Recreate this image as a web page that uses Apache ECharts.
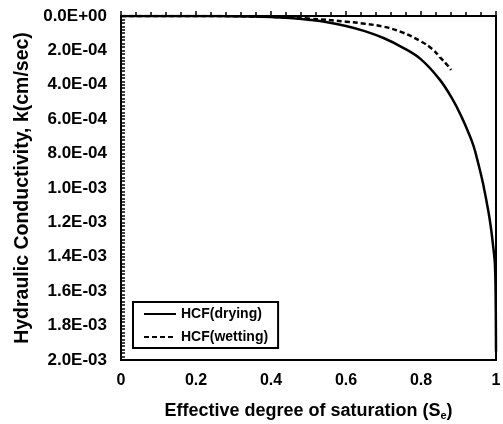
<!DOCTYPE html>
<html>
<head>
<meta charset="utf-8">
<script src="https://cdn.jsdelivr.net/npm/echarts@6/dist/echarts.min.js"></script>
<style>
  html, body { margin: 0; padding: 0; background: #fff; }
  #chart { width: 503px; height: 424px; }
</style>
</head>
<body>
<div id="chart"></div>
<script>
// effective degree of saturation vs hydraulic conductivity (cm/sec)
const seDrying = [0, 0.1, 0.2, 0.3, 0.4, 0.45, 0.5, 0.55, 0.6, 0.65, 0.7, 0.75, 0.8, 0.85, 0.885, 0.91, 0.925, 0.94, 0.953, 0.965, 0.98, 0.987, 0.993, 0.997, 0.999, 1];
const kDrying = [0, 0, 1e-7, 1e-6, 6e-6, 1.2e-5, 2.2e-5, 3.6e-5, 5.8e-5, 8.8e-5, 1.28e-4, 1.82e-4, 2.52e-4, 3.7e-4, 4.88e-4, 5.95e-4, 6.7e-4, 7.55e-4, 8.6e-4, 9.7e-4, 1.14e-3, 1.24e-3, 1.35e-3, 1.44e-3, 1.62e-3, 1.95e-3];
const seWetting = [0, 0.1, 0.2, 0.3, 0.4, 0.5, 0.6, 0.65, 0.7, 0.75, 0.8, 0.83, 0.85, 0.87, 0.88];
const kWetting = [0, 0, 0, 1e-6, 5e-6, 1.5e-5, 3.3e-5, 4.5e-5, 6.2e-5, 9.5e-5, 1.48e-4, 1.92e-4, 2.38e-4, 2.85e-4, 3.14e-4];

const font = 'Arial, "Liberation Sans", sans-serif';

function pair(xs, ys) {
  return xs.map((x, i) => [x, ys[i]]);
}

function sci(v) {
  if (v === 0) return '0.0E+00';
  const s = v.toExponential(1).toUpperCase();
  const [m, e] = s.split('E');
  const n = parseInt(e, 10);
  const sign = n < 0 ? '-' : '+';
  const a = Math.abs(n);
  return m + 'E' + sign + (a < 10 ? '0' + a : a);
}

const chart = echarts.init(document.getElementById('chart'));
chart.setOption({
  animation: false,
  backgroundColor: '#fff',
  textStyle: { fontFamily: font },
  grid: {
    left: 121, right: 7, top: 16, bottom: 64,
    outerBoundsMode: 'none',
    show: true, borderColor: '#000', borderWidth: 2,
  },
  legend: {
    left: 133, top: 302,
    orient: 'vertical',
    padding: [5, 10, 4, 10],
    itemGap: 9,
    itemWidth: 32,
    itemHeight: 12,
    borderColor: '#000',
    borderWidth: 2,
    itemStyle: { opacity: 0 },
    textStyle: { fontFamily: font, fontWeight: 'bold', fontSize: 14, color: '#000' },
    data: ['HCF(drying)', 'HCF(wetting)'],
  },
  xAxis: {
    type: 'value',
    min: 0, max: 1, interval: 0.2,
    name: '{n|Effective degree of saturation (S}{s|e}{n|)}',
    nameLocation: 'middle',
    nameGap: 41,
    nameTextStyle: {
      rich: {
        n: { fontFamily: font, fontWeight: 'bold', fontSize: 18, color: '#000' },
        s: { fontFamily: font, fontWeight: 'bold', fontSize: 11, color: '#000', verticalAlign: 'bottom', padding: [9, 0, 0, 0] },
      },
    },
    axisLine: { lineStyle: { color: '#000', width: 2 } },
    axisTick: { inside: true, length: 5, lineStyle: { color: '#000', width: 1.5 } },
    minorTick: { show: true, splitNumber: 5, length: 4, lineStyle: { color: '#000', width: 1.5 } },
    splitLine: { show: false },
    axisLabel: { color: '#000', fontWeight: 'bold', fontSize: 16, margin: 13 },
  },
  yAxis: {
    type: 'value',
    inverse: true,
    min: 0, max: 0.002, interval: 0.0002,
    name: 'Hydraulic Conductivity, k(cm/sec)',
    nameLocation: 'middle',
    nameGap: 84,
    nameTextStyle: { fontFamily: font, fontWeight: 'bold', fontSize: 19.5, color: '#000' },
    axisLine: { lineStyle: { color: '#000', width: 2 } },
    axisTick: { inside: true, length: 4, lineStyle: { color: '#000', width: 1.5 } },
    minorTick: { show: true, splitNumber: 10, length: 4, lineStyle: { color: '#000', width: 1.5 } },
    splitLine: { show: false },
    axisLabel: { color: '#000', fontWeight: 'bold', fontSize: 17, margin: 14, formatter: sci },
  },
  series: [
    {
      name: 'HCF(drying)',
      type: 'line',
      data: pair(seDrying, kDrying),
      showSymbol: false,
      symbol: 'none',
      smooth: 0.4,
      lineStyle: { color: '#000', width: 2.5 },
      itemStyle: { color: '#000' },
    },
    {
      name: 'HCF(wetting)',
      type: 'line',
      data: pair(seWetting, kWetting),
      showSymbol: false,
      symbol: 'none',
      smooth: 0.4,
      lineStyle: { color: '#000', width: 2.5, type: [5, 3] },
      itemStyle: { color: '#000' },
    },
  ],
});
</script>
</body>
</html>
